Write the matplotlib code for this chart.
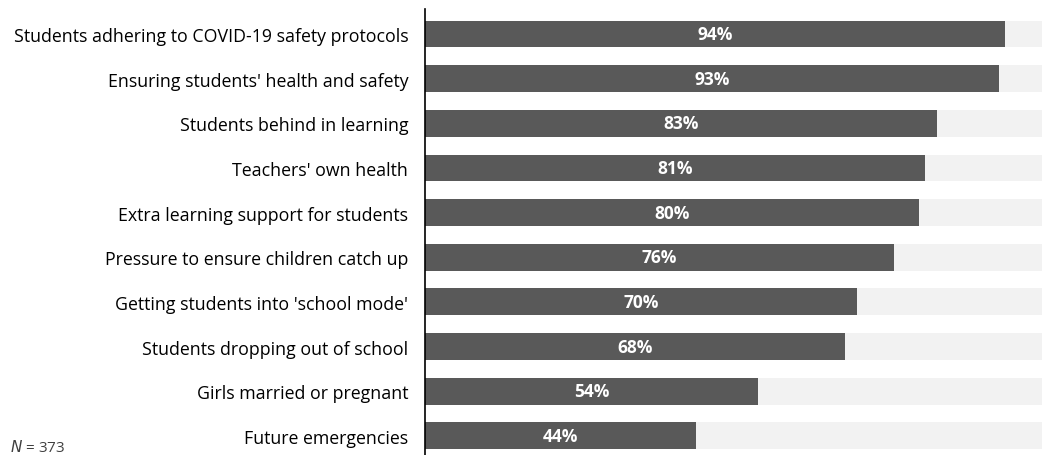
import matplotlib.pyplot as plt

# data
categories = [
    "Students adhering to COVID-19 safety protocols",
    "Ensuring students' health and safety",
    "Students behind in learning",
    "Teachers' own health",
    "Extra learning support for students",
    "Pressure to ensure children catch up",
    "Getting students into 'school mode'",
    "Students dropping out of school",
    "Girls married or pregnant",
    "Future emergencies",
]
values = [94, 93, 83, 81, 80, 76, 70, 68, 54, 44]
total = 100
n_label = "373"

plt.rcParams['font.family'] = ['Open Sans', 'DejaVu Sans']

fig = plt.figure(figsize=(10.48, 4.56), dpi=100)
ax = fig.add_axes([425 / 1048, 0.0, 617 / 1048, 446 / 456])

ypos = list(range(len(categories)))
ax.barh(ypos, [total] * len(values), height=0.6, color="#f2f2f2", zorder=1)
ax.barh(ypos, values, height=0.6, color="#595959", zorder=2)

for y, v in zip(ypos, values):
    ax.text(v / 2, y, f"{v}%", ha="center", va="center", color="white",
            fontsize=12.5, fontweight="bold", zorder=3)

ax.set_xlim(0, total)
ax.set_ylim(9.43, -0.56)
ax.set_yticks(ypos)
ax.set_yticklabels(categories, fontsize=12.8)
ax.tick_params(axis="y", length=0, pad=12)
ax.set_xticks([])

for side in ["top", "right", "bottom"]:
    ax.spines[side].set_visible(False)
ax.spines["left"].set_color("black")
ax.spines["left"].set_linewidth(1.2)

fig.text(10 / 1048, 1 - 448 / 456, "$\\it{N}$ = " + n_label, fontsize=11,
         ha="left", va="center", color="#404040")

fig.savefig("out.png", dpi=100)
